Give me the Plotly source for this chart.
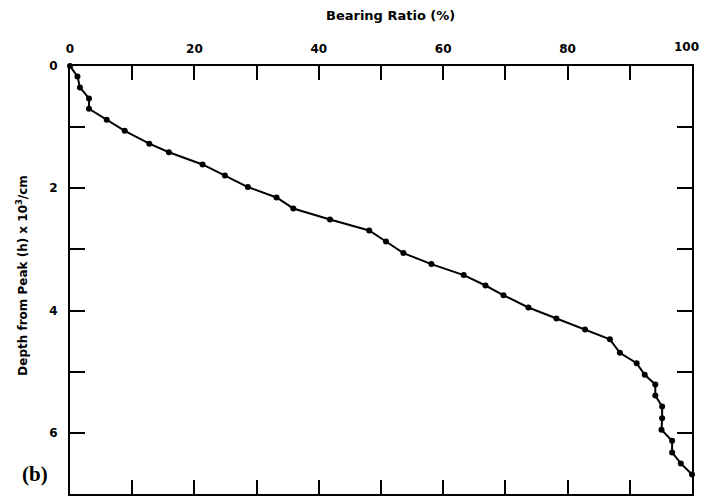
import plotly.graph_objects as go

bearing_ratio = [0, 1.2, 1.6, 3.05, 3.05, 5.9, 8.8, 12.75, 15.9, 21.3, 24.9, 28.6, 33.2, 35.9,
                 41.8, 48.1, 50.8, 53.6, 58.1, 63.3, 66.8, 69.7, 73.7, 78.2, 82.8, 86.8, 88.4,
                 91.1, 92.4, 94.1, 94.1, 95.2, 95.2, 95.1, 96.8, 96.8, 98.2, 100]
depth = [0, 0.17, 0.35, 0.53, 0.70, 0.88, 1.06, 1.27, 1.41, 1.61, 1.79, 1.98, 2.15, 2.33,
         2.51, 2.69, 2.87, 3.06, 3.24, 3.42, 3.59, 3.75, 3.95, 4.13, 4.31, 4.47, 4.69,
         4.86, 5.05, 5.21, 5.39, 5.57, 5.76, 5.95, 6.13, 6.32, 6.50, 6.68]

x_ticks = [0, 10, 20, 30, 40, 50, 60, 70, 80, 90, 100]
x_labels = ["0", "", "20", "", "40", "", "60", "", "80", "", "100"]
y_ticks = [0, 1, 2, 3, 4, 5, 6]
y_labels = ["0", "", "2", "", "4", "", "6"]

fig = go.Figure()
fig.add_trace(go.Scatter(
    x=bearing_ratio, y=depth, mode="lines+markers",
    line=dict(color="black", width=2),
    marker=dict(color="black", size=6),
    showlegend=False, cliponaxis=False,
))

tickfont = dict(family="DejaVu Sans", size=12, color="black", weight="bold")
fig.update_xaxes(
    side="top", range=[0, 100], tickvals=x_ticks[:-1], ticktext=x_labels[:-1],
    ticks="inside", ticklen=14, tickwidth=2, tickcolor="black",
    showline=True, linecolor="black", linewidth=2, mirror="ticks",
    showgrid=False, zeroline=False, tickfont=tickfont, ticklabelstandoff=6,
)
fig.update_yaxes(
    range=[7, 0], tickvals=y_ticks, ticktext=y_labels,
    ticks="inside", ticklen=15, tickwidth=2, tickcolor="black",
    showline=True, linecolor="black", linewidth=2, mirror="ticks",
    showgrid=False, zeroline=False, tickfont=tickfont, ticklabelstandoff=8,
)

# last top tick label (placed as text so it stays inside the page edge)
fig.add_annotation(text=x_labels[-1], xref="x", yref="paper", x=x_ticks[-1], y=1.0,
                   xanchor="right", yanchor="middle", xshift=9, yshift=19,
                   showarrow=False, font=tickfont)

fig.add_annotation(text="<b>Bearing Ratio (%)</b>", xref="paper", yref="paper",
                   x=0.515, y=1.0, yanchor="middle", yshift=51, showarrow=False,
                   font=dict(family="DejaVu Sans", size=13, color="black"))
fig.add_annotation(text="<b>Depth from Peak (h) x 10<sup>3</sup>/cm</b>", xref="paper", yref="paper",
                   x=0, xshift=-58, y=0.51, textangle=-90, showarrow=False,
                   font=dict(family="DejaVu Sans", size=12, color="black"))
fig.add_annotation(text="<b>(b)</b>", xref="paper", yref="paper",
                   x=0, xshift=-50, y=0, yshift=6, showarrow=False,
                   font=dict(family="Liberation Serif", size=21, color="black"))

fig.update_layout(
    width=703, height=501,
    margin=dict(l=70, r=11, t=66, b=5),
    paper_bgcolor="white", plot_bgcolor="white",
)
fig.write_html("out.html")
